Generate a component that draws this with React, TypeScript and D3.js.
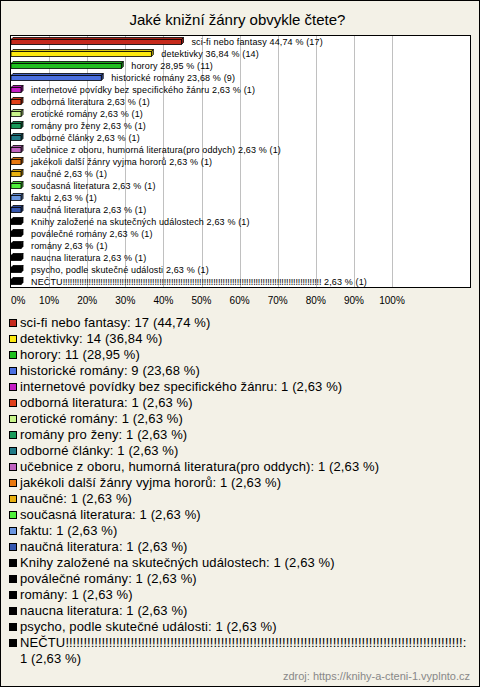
import React, { useEffect, useRef } from "react";
import * as d3 from "d3";

const TITLE = "Jaké knižní žánry obvykle čtete?";
const SOURCE = "zdroj: https://knihy-a-cteni-1.vyplnto.cz";

const categories = [
  "sci-fi nebo fantasy",
  "detektivky",
  "horory",
  "historické romány",
  "internetové povídky bez specifického žánru",
  "odborná literatura",
  "erotické romány",
  "romány pro ženy",
  "odborné články",
  "učebnice z oboru, humorná literatura(pro oddych)",
  "jakékoli další žánry vyjma hororů",
  "naučné",
  "současná literatura",
  "faktu",
  "naučná literatura",
  "Knihy založené na skutečných událostech",
  "poválečné romány",
  "romány",
  "naucna literatura",
  "psycho, podle skutečné události",
  "NEČTU" + "!".repeat(110),
];

const counts = [17, 14, 11, 9, 1, 1, 1, 1, 1, 1, 1, 1, 1, 1, 1, 1, 1, 1, 1, 1, 1];
const percents = [44.74, 36.84, 28.95, 23.68, 2.63, 2.63, 2.63, 2.63, 2.63, 2.63, 2.63, 2.63, 2.63, 2.63, 2.63, 2.63, 2.63, 2.63, 2.63, 2.63, 2.63];

const colors = [
  "#c62a1c", "#fde910", "#1fbf1f", "#4a6fe0", "#c41cc4", "#e0401a", "#c8f58a",
  "#1a9a5a", "#217a86", "#c062c0", "#e8780f", "#e8b010", "#50ef3c", "#6a96e0",
  "#3456b0", "#000000", "#000000", "#000000", "#000000", "#000000", "#000000",
];

const ticks = [0, 10, 20, 30, 40, 50, 60, 70, 80, 90, 100];

const W = 480;
const H = 687;
const FONT = "'Liberation Sans', Arial, sans-serif";

const fmt = (v: number) => v.toFixed(2).replace(".", ",");

// write a string into a <text>, drawing runs of "!" with their own letter-spacing
function fillRuns(t: any, s: string, bangSpacing: number) {
  s.split(/(!+)/).filter((p) => p.length > 0).forEach((p) => {
    const ts = t.append("tspan").text(p);
    if (p[0] === "!") ts.attr("letter-spacing", bangSpacing);
  });
}

export default function App() {
  const ref = useRef<SVGSVGElement>(null);

  useEffect(() => {
    const svg = d3.select(ref.current);
    svg.selectAll("*").remove();

    svg.append("rect").attr("x", 0.5).attr("y", 0.5).attr("width", W - 1).attr("height", H - 1)
      .attr("fill", "#f3f1e7").attr("stroke", "#000");

    svg.append("text").attr("x", 237.5).attr("y", 25).attr("text-anchor", "middle")
      .attr("font-family", FONT).attr("font-size", 15).attr("fill", "#000").text(TITLE);

    const plotL = 10.5, plotT = 35.5, plotW = 460, plotH = 252;
    svg.append("rect").attr("x", plotL).attr("y", plotT).attr("width", plotW).attr("height", plotH)
      .attr("fill", "#fff").attr("stroke", "#000");

    const x = d3.scaleLinear().domain([0, 100]).range([11, 392]);
    const y = d3.scaleBand<number>().domain(d3.range(categories.length)).range([35, 287]);

    svg.append("g").selectAll("line").data(ticks.filter((t) => t > 0)).join("line")
      .attr("x1", (d) => Math.round(x(d)) + 0.5).attr("x2", (d) => Math.round(x(d)) + 0.5)
      .attr("y1", plotT + 0.5).attr("y2", plotT + plotH - 0.5)
      .attr("stroke", "#c0c0c0");

    svg.append("g").selectAll("text").data(ticks).join("text")
      .attr("x", (d) => (d === 0 ? 11 : x(d)))
      .attr("y", 304)
      .attr("text-anchor", (d) => (d === 0 ? "start" : "middle"))
      .attr("font-family", FONT).attr("font-size", 10).attr("fill", "#000")
      .text((d) => `${d}%`);

    const dep = 2;
    const bars = svg.append("g");
    categories.forEach((name, i) => {
      const cy = (y(i) as number) + y.bandwidth() / 2 + 0.5;
      const x0 = x(0);
      const x1 = x(percents[i]);
      const c = colors[i];
      const top = d3.color(c)!.darker(0.4).toString();
      const side = d3.color(c)!.darker(1).toString();
      const ft = cy - 2, fb = cy + 3;
      bars.append("polygon")
        .attr("points", `${x0},${ft} ${x0 + dep},${ft - dep} ${x1 + dep},${ft - dep} ${x1},${ft}`)
        .attr("fill", top).attr("stroke", "#000").attr("stroke-width", 0.8);
      bars.append("polygon")
        .attr("points", `${x1},${ft} ${x1 + dep},${ft - dep} ${x1 + dep},${fb - dep} ${x1},${fb}`)
        .attr("fill", side).attr("stroke", "#000").attr("stroke-width", 0.8);
      bars.append("rect").attr("x", x0).attr("y", ft).attr("width", x1 - x0).attr("height", fb - ft)
        .attr("fill", c).attr("stroke", "#000").attr("stroke-width", 0.8);
      const label = `${name} ${fmt(percents[i])} % (${counts[i]})`;
      const t = bars.append("text").attr("x", x1 + 10).attr("y", cy + 3)
        .attr("font-family", FONT).attr("font-size", 9).attr("fill", "#000")
        .attr("letter-spacing", 0.15);
      fillRuns(t, label, -0.15);
    });

    const leg = svg.append("g");
    let ly = 327;
    categories.forEach((name, i) => {
      leg.append("rect").attr("x", 9.5).attr("y", ly - 7.5).attr("width", 7).attr("height", 7)
        .attr("fill", colors[i]).attr("stroke", "#000");
      const full = `${name}: ${counts[i]} (${fmt(percents[i])} %)`;
      const t = leg.append("text").attr("x", 20).attr("y", ly)
        .attr("font-family", FONT).attr("font-size", 13).attr("fill", "#000")
        .attr("letter-spacing", 0.12);
      fillRuns(t, full, 0);
      const len = (t.node() as SVGTextElement).getComputedTextLength();
      if (len > W - 25) {
        t.selectAll("*").remove();
        fillRuns(t, `${name}:`, 0);
        ly += 16;
        leg.append("text").attr("x", 20).attr("y", ly)
          .attr("font-family", FONT).attr("font-size", 13).attr("fill", "#000")
          .attr("letter-spacing", 0.12)
          .text(`${counts[i]} (${fmt(percents[i])} %)`);
      }
      ly += 16;
    });

    svg.append("text").attr("x", 470).attr("y", 680).attr("text-anchor", "end")
      .attr("font-family", FONT).attr("font-size", 11).attr("fill", "#888").text(SOURCE);
  }, []);

  return (
    <svg ref={ref} width={W} height={H} style={{ position: "absolute", left: 0, top: 0 }} />
  );
}
